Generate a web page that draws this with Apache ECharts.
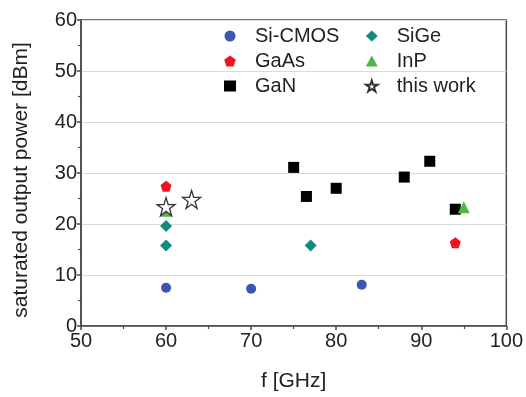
<!DOCTYPE html>
<html><head><meta charset="utf-8">
<script src="https://cdn.jsdelivr.net/npm/echarts@6/dist/echarts.min.js"></script>
<style>html,body{margin:0;padding:0;background:#fff}#c{width:526px;height:397px}</style>
</head><body><div id="c"></div>
<script>
const siCmos = [[60, 7.5], [70, 7.3], [83, 8.1]];
const gaAs = [[60, 27.4], [94, 16.3]];
const gaN = [[75, 31.1], [76.5, 25.4], [80, 27.0], [88, 29.2], [91, 32.3], [94, 22.9]];
const siGe = [[60, 19.6], [60, 15.8], [77, 15.8]];
const inP = [[60, 22.6], [95, 23.3]];
const thisWork = [[60, 23.4], [63, 24.8]];
const xTicks = [50, 60, 70, 80, 90, 100];
const yTicks = [0, 10, 20, 30, 40, 50, 60];

const STAR = 'path://M50 0 L61.23 34.55 L97.55 34.55 L68.17 55.9 L79.39 90.45 L50 69.1 L20.61 90.45 L31.83 55.9 L2.45 34.55 L38.77 34.55 Z';
const PENT = 'path://M50 0 L97.55 34.55 L79.39 90.45 L20.61 90.45 L2.45 34.55 Z';
const FONT = '"Liberation Sans", Arial, sans-serif';

const chart = echarts.init(document.getElementById('c'), null, {renderer: 'canvas'});
const axisLine = {show: true, lineStyle: {color: '#4a4a4a', width: 1.5}};
const legendText = {fontFamily: FONT, fontSize: 20, color: '#222', lineHeight: 20, padding: [0, 0, 0, 14]};
const legendBase = {orient: 'vertical', top: 26, padding: 0, itemWidth: 12, itemHeight: 11, itemGap: 5,
  textStyle: legendText, symbolKeepAspect: true};
chart.setOption({
  animation: false,
  backgroundColor: '#fff',
  grid: {left: 81, right: 19, top: 20, bottom: 67, show: true, borderColor: '#4a4a4a', borderWidth: 1.5},
  legend: [
    Object.assign({left: 224, data: ['Si-CMOS', 'GaAs', 'GaN']}, legendBase),
    Object.assign({left: 365, data: ['SiGe', 'InP', 'this work']}, legendBase)
  ],
  xAxis: {
    type: 'value', min: xTicks[0], max: xTicks[xTicks.length - 1], interval: 10,
    name: 'f [GHz]', nameLocation: 'middle', nameGap: 45,
    nameTextStyle: {fontFamily: FONT, fontSize: 21, color: '#222'},
    axisLine: axisLine,
    axisTick: {show: true, inside: false, length: 4, lineStyle: {color: '#4a4a4a', width: 1.5}},
    minorTick: {show: true, splitNumber: 2, length: 3, lineStyle: {color: '#4a4a4a', width: 1.2}},
    axisLabel: {fontFamily: FONT, fontSize: 20, color: '#222', margin: 5},
    splitLine: {show: false}
  },
  yAxis: {
    type: 'value', min: yTicks[0], max: yTicks[yTicks.length - 1], interval: 10,
    name: 'saturated output power [dBm]', nameLocation: 'middle', nameGap: 49,
    nameTextStyle: {fontFamily: FONT, fontSize: 21, color: '#222', padding: [0, 14, 0, 0]},
    axisLine: axisLine,
    axisTick: {show: true, inside: false, length: 4, lineStyle: {color: '#4a4a4a', width: 1.5}},
    minorTick: {show: true, splitNumber: 2, length: 3, lineStyle: {color: '#4a4a4a', width: 1.2}},
    axisLabel: {fontFamily: FONT, fontSize: 20, color: '#222', margin: 4},
    splitLine: {show: true, lineStyle: {color: '#dadada', width: 1}}
  },
  series: [
    {name: 'Si-CMOS', type: 'scatter', data: siCmos, symbol: 'circle', symbolSize: 10, itemStyle: {color: '#3b55b0', opacity: 1}},
    {name: 'GaAs', type: 'scatter', data: gaAs, symbol: PENT, symbolSize: 11, itemStyle: {color: '#f0141e', opacity: 1}},
    {name: 'GaN', type: 'scatter', data: gaN, symbol: 'rect', symbolSize: 11, itemStyle: {color: '#000', opacity: 1}},
    {name: 'SiGe', type: 'scatter', data: siGe, symbol: 'diamond', symbolSize: 12, itemStyle: {color: '#138a80', opacity: 1}},
    {name: 'InP', type: 'scatter', data: inP, symbol: 'triangle', symbolSize: 12, itemStyle: {color: '#4db848', opacity: 1}},
    {name: 'this work', type: 'scatter', data: thisWork, symbol: STAR, symbolSize: 18,
     itemStyle: {color: '#fff', borderColor: '#333', borderWidth: 1.3, opacity: 1}, z: 5}
  ]
});
</script></body></html>
